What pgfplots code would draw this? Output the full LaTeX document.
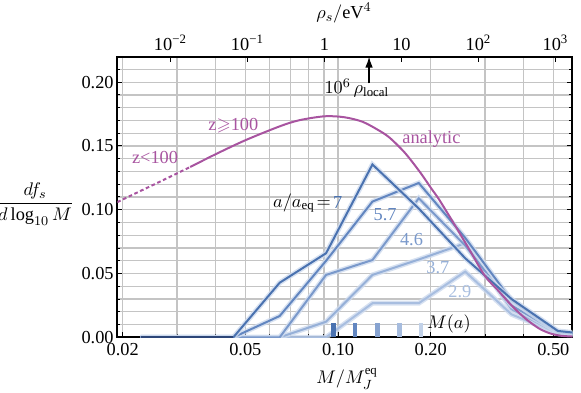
\documentclass[border=0pt]{standalone}
\usepackage{amssymb}
\usepackage{pgfplots}
\pgfplotsset{compat=1.18}
\usepackage{pgfplotstable}
\usepackage{fontspec}
\setmainfont{Liberation Serif}
\usetikzlibrary{arrows.meta}

\definecolor{purp}{RGB}{168,84,160}
\definecolor{bA}{RGB}{74,114,176}
\definecolor{bB}{RGB}{98,134,192}
\definecolor{bC}{RGB}{122,153,203}
\definecolor{bD}{RGB}{150,176,216}
\definecolor{bE}{RGB}{168,190,224}
\definecolor{band}{RGB}{205,218,238}
\definecolor{navy}{RGB}{45,70,120}
\definecolor{gridc}{RGB}{196,196,196}

\pgfplotstableread{
M s7 s57 s46 s37 s29
0.02285 0 0 0 0 0
0.03232 0 0 0 0 0
0.04571 0 0 0 0 0
0.06464 0.0428 0.0167 0 0 0
0.09142 0.0659 0.0600 0.0489 0.0122 0
0.1293 0.1355 0.1064 0.0606 0.0489 0.0267
0.1828 0.1010 0.1210 0.1090 0.0610 0.0267
0.2586 0.0620 0.0780 0.0720 0.0737 0.0515
0.3657 0.0300 0.0290 0.0250 0.0220 0.0180
0.5171 0.0050 0.0040 0.0040 0.0030 0.0030
0.7313 0.0010 0.0010 0.0010 0.0005 0.0005
}\bins

\begin{document}
\fontsize{11}{13}\selectfont
\begin{tikzpicture}
\path[use as bounding box] (0,0) rectangle (348.6pt,235.8pt);
\begin{axis}[
  scale only axis, width=273pt, height=168.36pt,
  at={(70.38pt,33.42pt)}, anchor=south west,
  xmode=log, xmin=0.0192, xmax=0.576, ymin=0, ymax=0.22,
  xtick={0.02,0.05,0.1,0.2,0.5},
  xticklabels={0.02,0.05,0.10,0.20,0.50},
  minor xtick={0.03,0.04,0.06,0.07,0.08,0.09,0.3,0.4},
  ytick={0,0.05,0.1,0.15,0.2},
  minor ytick={0.01,0.02,0.03,0.04,0.06,0.07,0.08,0.09,0.11,0.12,0.13,0.14,0.16,0.17,0.18,0.19,0.21},
  yticklabel style={/pgf/number format/fixed, /pgf/number format/fixed zerofill, /pgf/number format/precision=2, /pgf/number format/assume math mode=true, inner xsep=2pt},
  xtick pos=lower, ytick pos=both,
  tick align=inside,
  major tick length=3pt, minor tick length=1.8pt,
  every tick/.style={black, line width=0.6pt},
  xmajorgrids, xminorgrids, ymajorgrids, yminorgrids,
  major grid style={gridc, line width=0.85pt},
  minor grid style={gridc, line width=0.85pt},
  axis line style={black, line width=1pt},
  tick label style={font=\fontsize{11}{13}\selectfont},
]
% bands and lines
\addplot[band, line width=3pt, opacity=0.8] table[x=M,y=s29] {\bins};
\addplot[bE, line width=1.2pt] table[x=M,y=s29] {\bins};
\addplot[band, line width=3pt, opacity=0.8] table[x=M,y=s37] {\bins};
\addplot[bD, line width=1.2pt] table[x=M,y=s37] {\bins};
\addplot[band, line width=3pt, opacity=0.8] table[x=M,y=s46] {\bins};
\addplot[bC, line width=1.2pt] table[x=M,y=s46] {\bins};
\addplot[band, line width=3pt, opacity=0.8] table[x=M,y=s57] {\bins};
\addplot[bB, line width=1.2pt] table[x=M,y=s57] {\bins};
\addplot[band, line width=3pt, opacity=0.8] table[x=M,y=s7] {\bins};
\addplot[bA, line width=1.2pt] table[x=M,y=s7] {\bins};
\addplot[navy, line width=1.2pt] coordinates {(0.02285,0.0005) (0.0457,0.0005)};
% M(a) bars
\addplot[ycomb, bA, line width=2.8pt] coordinates {(0.0966,0.0115)};
\addplot[ycomb, bB, line width=2.8pt] coordinates {(0.1136,0.0115)};
\addplot[ycomb, bC!90!white, line width=2.8pt] coordinates {(0.134,0.0115)};
\addplot[ycomb, bD!85!white, line width=2.8pt] coordinates {(0.158,0.0115)};
\addplot[ycomb, bE!70!white, line width=2.8pt] coordinates {(0.186,0.0115)};
% analytic
\addplot[purp, line width=1.2pt, smooth, dash pattern=on 2.2pt off 1.6pt] coordinates {
(0.0192,0.106) (0.0225,0.114) (0.0265,0.1222) (0.0331,0.1335)};
\addplot[purp, line width=1.2pt, smooth] coordinates {
(0.0331,0.1335) (0.04,0.1435) (0.05,0.1545) (0.0648,0.1655) (0.0752,0.1703)
(0.0907,0.1733) (0.105,0.1725) (0.12,0.1690) (0.135,0.1625) (0.147,0.1565)
(0.165,0.1445) (0.1845,0.1295) (0.201,0.1165) (0.2135,0.1075) (0.240,0.0875)
(0.268,0.068) (0.300,0.048) (0.33,0.037) (0.353,0.029) (0.38,0.021)
(0.41,0.0138) (0.45,0.0068) (0.489,0.003) (0.53,0.0012) (0.576,0.0006)};
% labels
\node[purp] at (axis cs:0.02546,0.1406) {z<100};
\node[purp] at (axis cs:0.0457,0.1657) {z$\geqslant$100};
\node[purp] at (axis cs:0.2009,0.1553) {analytic};
\node[anchor=east, inner xsep=0pt] at (axis cs:0.0949,0.1053) {$a/a_{\mathrm{eq}}\!=$};
\node[anchor=west, inner xsep=1pt, bA] at (axis cs:0.0949,0.1053) {7};
\node[bB] at (axis cs:0.1421,0.0959) {5.7};
\node[bC] at (axis cs:0.1732,0.0763) {4.6};
\node[bD] at (axis cs:0.211,0.0544) {3.7};
\node[bE] at (axis cs:0.2486,0.0355) {2.9};
\node at (axis cs:0.229,0.0104) {$M(a)$};
\end{axis}
\begin{axis}[
  scale only axis, width=273pt, height=168.36pt,
  at={(70.38pt,33.42pt)}, anchor=south west,
  xmode=log, xmin=0.002044, xmax=1656, ymin=0, ymax=0.22,
  axis x line*=top, hide y axis,
  xtick={0.01,0.1,1,10,100,1000},
  xticklabels={10\textsuperscript{−2},10\textsuperscript{−1},1,10,10\textsuperscript{2},10\textsuperscript{3}},
  xminorticks=false,
  tick align=inside, major tick length=3pt,
  every tick/.style={black, line width=0.6pt},
  axis line style={black, line width=1pt},
  tick label style={font=\fontsize{11}{13}\selectfont},
  clip=false,
]
\draw[-{Latex[length=6.5pt,width=4.5pt]}, line width=0.7pt] (axis cs:3.8,0.199) -- (axis cs:3.8,0.22);
\node at (axis cs:2.63,0.1955) {$10^{6}\,\rho_{\mathrm{local}}$};
\end{axis}
\node at (21pt,113.4pt) {$\displaystyle\frac{df_s}{d\log_{10}M}$};
\node at (208.2pt,8.4pt) {$M/M_J^{\mathrm{eq}}$};
\node at (206.4pt,228pt) {$\rho_s/\mathrm{eV}^4$};
\end{tikzpicture}
\end{document}
